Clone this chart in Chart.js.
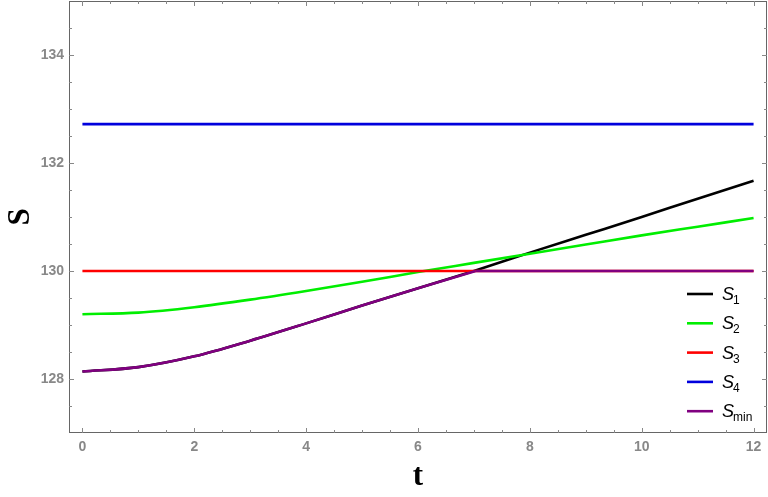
<!DOCTYPE html>
<html>
<head>
<meta charset="utf-8">
<script src="https://cdn.jsdelivr.net/npm/chart.js@4.4.0/dist/chart.umd.min.js"></script>
<style>
html, body { margin: 0; padding: 0; background: #fff; }
</style>
</head>
<body>
<canvas id="graph" width="768" height="497"></canvas>
<script>
// values
var tVals = [0, 1, 2, 3, 4, 5, 6, 7, 8, 9, 10, 11, 12];
var s1Vals = [128.14, 128.22, 128.42, 128.71, 129.03, 129.36, 129.68, 130.00, 130.34, 130.67, 131.00, 131.34, 131.67];
var s2Vals = [129.20, 129.23, 129.33, 129.47, 129.63, 129.80, 129.98, 130.15, 130.32, 130.49, 130.66, 130.82, 130.98];
var flatT = [0, 12];
var s3Vals = [130.00, 130.00];
var s4Vals = [132.72, 132.72];
// S_min follows S1 up to the kink, then stays on 130
var sMinCurveT = [0, 1, 2, 3, 4, 5, 6, 7.03];
var sMinCurveVals = [128.14, 128.22, 128.42, 128.71, 129.03, 129.36, 129.68, 130.00];
var sMinFlatT = [7.03, 12];
var sMinFlatVals = [130.00, 130.00];
var xTicks = [0, 2, 4, 6, 8, 10, 12];
var yTicks = [128, 130, 132, 134];
var legendSubs = ['1', '2', '3', '4', 'min'];
var colors = ['#000000', '#00ee00', '#ff0000', '#0000dd', '#800080'];

function pts(xs, ys){
    var out = [];
    for(let i = 0; i < xs.length; i++) out.push({x: xs[i], y: ys[i]});
    return out;
}

var series = [
    {data: pts(tVals, s1Vals), color: colors[0], order: 6},
    {data: pts(tVals, s2Vals), color: colors[1], order: 5},
    {data: pts(flatT, s3Vals), color: colors[2], order: 4},
    {data: pts(flatT, s4Vals), color: colors[3], order: 3},
    {data: pts(sMinCurveT, sMinCurveVals), color: colors[4], order: 2},
    {data: pts(sMinFlatT, sMinFlatVals), color: colors[4], order: 1}
];
var datasets = [];
for(let i = 0; i < series.length; i++){
    datasets.push({
        data: series[i].data,
        order: series[i].order,
        showLine: true,
        borderColor: series[i].color,
        backgroundColor: series[i].color,
        borderWidth: 2.6,
        pointRadius: 0,
        cubicInterpolationMode: 'monotone',
        fill: false
    });
}

// frame, inward ticks and the legend inside the plot
var framePlugin = {
    id: 'frame',
    afterDraw: function(chart){
        var c = chart.ctx;
        var a = chart.chartArea;
        var xs = chart.scales.x, ys = chart.scales.y;
        c.save();
        c.strokeStyle = '#666';
        c.lineWidth = 1;
        c.strokeRect(a.left + 0.5, a.top + 0.5, a.right - a.left - 1, a.bottom - a.top - 1);
        c.strokeStyle = '#888';
        c.beginPath();
        for(let v = 0; v <= 12.001; v += 0.5){
            let px = Math.round(xs.getPixelForValue(v)) + 0.5;
            let len = (v % 2 === 0) ? 5 : 3;
            c.moveTo(px, a.bottom); c.lineTo(px, a.bottom - len);
            c.moveTo(px, a.top); c.lineTo(px, a.top + len);
        }
        for(let v = 127.5; v <= 134.51; v += 0.5){
            let py = Math.round(ys.getPixelForValue(v)) + 0.5;
            let len = (v % 2 === 0) ? 5 : 3;
            c.moveTo(a.left, py); c.lineTo(a.left + len, py);
            c.moveTo(a.right, py); c.lineTo(a.right - len, py);
        }
        c.stroke();

        // legend
        var x0 = a.right - 80, y0 = a.bottom - 139, gap = 29.3;
        for(let i = 0; i < legendSubs.length; i++){
            let y = y0 + i * gap;
            c.strokeStyle = colors[i];
            c.lineWidth = 2.6;
            c.beginPath();
            c.moveTo(x0, y); c.lineTo(x0 + 26, y);
            c.stroke();
            c.fillStyle = '#000';
            c.textBaseline = 'alphabetic';
            c.font = 'italic 18px "Liberation Sans", Arial, sans-serif';
            c.fillText('S', x0 + 35, y + 6);
            let w = c.measureText('S').width;
            c.font = '12px "Liberation Sans", Arial, sans-serif';
            c.fillText(legendSubs[i], x0 + 34 + w, y + 10);
        }
        c.restore();
    }
};

function noPad(s){
    s.paddingTop = 0; s.paddingBottom = 0; s.paddingLeft = 0; s.paddingRight = 0;
}

var ctx = document.getElementById('graph').getContext('2d');
var chart = new Chart(ctx, {
    type: 'scatter',
    data: {datasets: datasets},
    plugins: [framePlugin],
    options: {
        responsive: false,
        animation: false,
        layout: {padding: {top: 1, right: 1, left: 0, bottom: 0}},
        plugins: {legend: {display: false}, tooltip: {enabled: false}},
        scales: {
            x: {
                type: 'linear',
                min: -0.24,
                max: 12.24,
                afterBuildTicks: function(s){ s.ticks = xTicks.map(function(v){ return {value: v}; }); },
                afterFit: function(s){ s.height = 64; noPad(s); },
                grid: {display: false, drawTicks: false},
                border: {display: false},
                ticks: {
                    padding: 6,
                    maxRotation: 0,
                    color: '#888',
                    font: {family: '"Liberation Sans Narrow", "Liberation Sans", Arial', size: 14, weight: 'bold'}
                },
                title: {
                    display: true,
                    text: 't',
                    color: '#000',
                    padding: {top: 0, bottom: 1},
                    font: {family: '"Liberation Serif", "Times New Roman", serif', size: 31, weight: 'bold'}
                }
            },
            y: {
                type: 'linear',
                min: 127,
                max: 135,
                afterBuildTicks: function(s){ s.ticks = yTicks.map(function(v){ return {value: v}; }); },
                afterFit: function(s){ s.width = 69; noPad(s); },
                grid: {display: false, drawTicks: false},
                border: {display: false},
                ticks: {
                    padding: 5,
                    color: '#888',
                    font: {family: '"Liberation Sans", Arial', size: 14, weight: 'bold'}
                },
                title: {
                    display: true,
                    text: 'S',
                    color: '#000',
                    padding: {top: 2, bottom: 0},
                    font: {family: '"Liberation Serif", "Times New Roman", serif', size: 31, weight: 'bold'}
                }
            }
        }
    }
});
</script>
</body>
</html>
